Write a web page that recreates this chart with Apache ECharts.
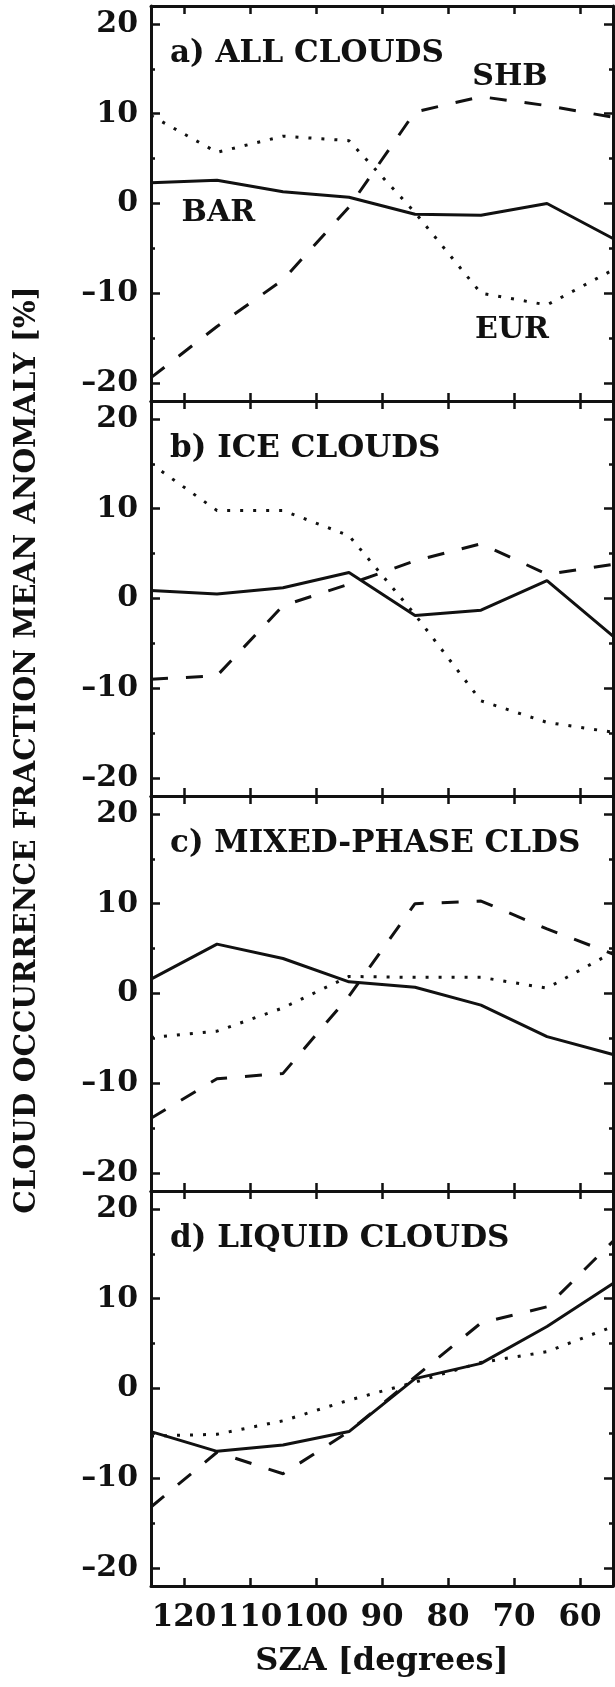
<!DOCTYPE html>
<html>
<head>
<meta charset="utf-8">
<script src="https://cdn.jsdelivr.net/npm/echarts@6/dist/echarts.min.js"></script>
<style>
html,body{margin:0;padding:0;background:#fff;}
#c{width:615px;height:1687px;}
</style>
</head>
<body>
<div id="c"></div>
<script>
// ---- data ----
const sza = [125, 115, 105, 95, 85, 75, 65, 55];
const xTicks = [120, 110, 100, 90, 80, 70, 60];
const yMajor = [-20, -10, 0, 10, 20];
const yMinor = [-15, -5, 5, 15];
const panelTitles = ['a) ALL CLOUDS', 'b) ICE CLOUDS', 'c) MIXED-PHASE CLDS', 'd) LIQUID CLOUDS'];
const yTitle = 'CLOUD OCCURRENCE FRACTION MEAN ANOMALY [%]';
const xTitle = 'SZA [degrees]';

const barAll = [2.3, 2.6, 1.3, 0.7, -1.2, -1.3, 0.0, -3.9];
const eurAll = [9.8, 5.7, 7.5, 7.0, -1.0, -10.0, -11.3, -7.4];
const shbAll = [-19.4, -13.7, -8.5, -0.4, 10.2, 11.9, 10.9, 9.6];

const barIce = [0.9, 0.5, 1.2, 2.9, -1.9, -1.3, 2.0, -4.2];
const eurIce = [15.0, 9.8, 9.8, 7.0, -1.8, -11.4, -13.8, -14.9];
const shbIce = [-9.0, -8.6, -0.8, 1.6, 4.2, 6.1, 2.7, 3.8];

const barMix = [1.6, 5.5, 3.9, 1.3, 0.7, -1.3, -4.8, -6.8];
const eurMix = [-4.9, -4.2, -1.6, 1.9, 1.8, 1.8, 0.6, 4.6];
const shbMix = [-13.9, -9.5, -8.9, -0.3, 10.0, 10.3, 7.2, 4.4];

const barLiq = [-4.8, -7.0, -6.3, -4.8, 1.1, 2.8, 6.9, 11.7];
const eurLiq = [-5.3, -5.1, -3.6, -1.3, 0.7, 2.9, 4.1, 6.9];
const shbLiq = [-13.2, -7.1, -9.5, -4.8, 1.3, 7.3, 9.1, 16.4];

// region labels in panel a (data coords)
const barLabelPos = [114.8, -1.1];
const shbLabelPos = [70.6, 14.1];
const eurLabelPos = [70.3, -14.1];

// ---- build ----
const FONT = 'DejaVu Serif';
const INK = '#111';
const panels = [
  [barAll, eurAll, shbAll],
  [barIce, eurIce, shbIce],
  [barMix, eurMix, shbMix],
  [barLiq, eurLiq, shbLiq]
];
const GRID_TOP = 6, GRID_H = 395, GRID_LEFT = 151, GRID_RIGHT = 2;

const fmtY = v => (v < 0 ? '\u2013' + Math.abs(v) : String(v));
const pairs = arr => arr.map((v, i) => [sza[i], v]);

const grid = [], xAxis = [], yAxis = [], series = [], graphic = [];
panels.forEach((p, i) => {
  grid.push({left: GRID_LEFT, right: GRID_RIGHT, top: GRID_TOP + i * GRID_H, height: GRID_H, containLabel: false});
  const baseX = {
    gridIndex: i, type: 'value', min: 55, max: 125, inverse: true, splitNumber: 7,
    axisLine: {show: true, onZero: false, lineStyle: {color: INK, width: 3}},
    axisTick: {show: true, inside: true, length: 8, customValues: xTicks, lineStyle: {color: INK, width: 2.5}},
    splitLine: {show: false}
  };
  xAxis.push(Object.assign({}, baseX, {
    position: 'bottom',
    axisLabel: {show: i === 3, customValues: xTicks, margin: 16, color: INK, fontFamily: FONT, fontWeight: 'bold', fontSize: 31},
    name: i === 3 ? xTitle : '', nameLocation: 'middle', nameGap: 60,
    nameTextStyle: {color: INK, fontFamily: FONT, fontWeight: 'bold', fontSize: 32}
  }));
  xAxis.push(Object.assign({}, baseX, {position: 'top', axisLabel: {show: false}}));
  const baseY = {
    gridIndex: i, type: 'value', min: -22, max: 22, splitNumber: 4,
    splitLine: {show: false}
  };
  yAxis.push(Object.assign({}, baseY, {
    position: 'left',
    axisLine: {show: true, onZero: false, lineStyle: {color: INK, width: 3}},
    axisTick: {show: true, inside: true, length: 9, customValues: yMajor, lineStyle: {color: INK, width: 2.5}},
    axisLabel: {show: true, customValues: yMajor, formatter: fmtY, margin: 13, color: INK, fontFamily: FONT, fontWeight: 'bold', fontSize: 30}
  }));
  yAxis.push(Object.assign({}, baseY, {
    position: 'left',
    axisLine: {show: false, onZero: false},
    axisTick: {show: true, inside: true, length: 4, customValues: yMinor, lineStyle: {color: INK, width: 2.5}},
    axisLabel: {show: false}
  }));
  yAxis.push(Object.assign({}, baseY, {
    position: 'right',
    axisLine: {show: true, onZero: false, lineStyle: {color: INK, width: 3}},
    axisTick: {show: true, inside: true, length: 9, customValues: yMajor, lineStyle: {color: INK, width: 2.5}},
    axisLabel: {show: false}
  }));
  yAxis.push(Object.assign({}, baseY, {
    position: 'right',
    axisLine: {show: false, onZero: false},
    axisTick: {show: true, inside: true, length: 4, customValues: yMinor, lineStyle: {color: INK, width: 2.5}},
    axisLabel: {show: false}
  }));

  const styles = [
    {type: 'solid'},
    {type: [3, 10], cap: 'butt'},
    {type: [17, 18], cap: 'butt'}
  ];
  const names = ['BAR', 'EUR', 'SHB'];
  p.forEach((arr, k) => {
    const s = {
      type: 'line', name: names[k] + i, xAxisIndex: 2 * i, yAxisIndex: 4 * i,
      data: pairs(arr), showSymbol: false, symbol: 'none', silent: true, animation: false,
      lineStyle: Object.assign({color: INK, width: 3}, styles[k])
    };
    if (i === 0) {
      const pos = [barLabelPos, eurLabelPos, shbLabelPos][k];
      s.markPoint = {
        symbol: 'circle', symbolSize: 0, silent: true, animation: false,
        label: {show: true, position: 'inside', formatter: names[k], color: INK, fontFamily: FONT, fontWeight: 'bold', fontSize: 30},
        data: [{coord: pos}]
      };
    }
    series.push(s);
  });

  graphic.push({
    type: 'text', x: 170, y: GRID_TOP + i * GRID_H + 48, silent: true,
    style: {text: panelTitles[i], fill: INK, font: 'bold 31px "DejaVu Serif"', align: 'left', verticalAlign: 'middle'}
  });
});

graphic.push({
  type: 'text', x: 27, y: 750, rotation: Math.PI / 2, silent: true,
  style: {text: yTitle, fill: INK, font: 'bold 29.5px "DejaVu Serif"', align: 'center', verticalAlign: 'middle'}
});

const chart = echarts.init(document.getElementById('c'), null, {renderer: 'canvas'});
chart.setOption({
  animation: false,
  backgroundColor: '#fff',
  grid, xAxis, yAxis, series, graphic
});
</script>
</body>
</html>
